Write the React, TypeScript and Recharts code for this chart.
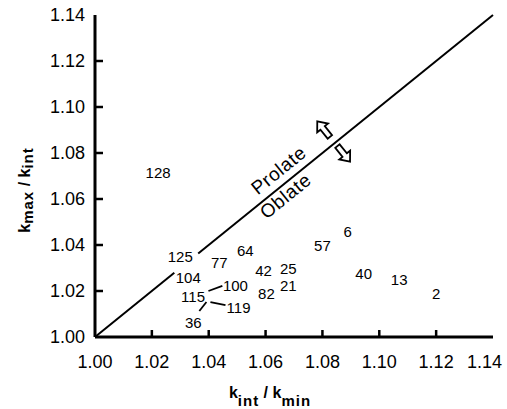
import React from 'react';
import { ScatterChart, Scatter, XAxis, YAxis, ReferenceLine } from 'recharts';

// ---- data ----
const axisTicks = [1.0, 1.02, 1.04, 1.06, 1.08, 1.1, 1.12, 1.14];
const innerTicks = [1.02, 1.04, 1.06, 1.08, 1.1, 1.12];

const specimenLabels = ['128', '125', '77', '64', '104', '100', '115', '119', '36', '42', '25', '82', '21', '57', '6', '40', '13', '2'];
const kIntOverKmin = [1.0222, 1.030, 1.0437, 1.0529, 1.0328, 1.0494, 1.0345, 1.0505, 1.0346, 1.0593, 1.068, 1.0603, 1.068, 1.080, 1.0889, 1.0945, 1.107, 1.120];
const kMaxOverKint = [1.0717, 1.0348, 1.0326, 1.0378, 1.0257, 1.0226, 1.0178, 1.013, 1.0065, 1.0287, 1.0296, 1.019, 1.0226, 1.0396, 1.0457, 1.0274, 1.0248, 1.019];

// diagonal k_max/k_int = k_int/k_min, broken around label 104/125
const diagonalStart = 1.0;
const diagonalBreakLow = 1.0279;
const diagonalBreakHigh = 1.0363;
const diagonalEnd = 1.14;

// leader lines from label 115
const leaderFrom = [
  { x: 1.0399, y: 1.02 },
  { x: 1.0392, y: 1.0152 },
  { x: 1.0406, y: 1.0152 },
];
const leaderTo = [
  { x: 1.0448, y: 1.0222 },
  { x: 1.0367, y: 1.0113 },
  { x: 1.0459, y: 1.0139 },
];

const regionNames = ['Prolate', 'Oblate'];
const regionX = [1.0646, 1.067];
const regionY = [1.0725, 1.0613];

const arrowDirs = ['up', 'down'];
const arrowX = [1.0804, 1.0875];
const arrowY = [1.0904, 1.0796];

// ---- derived tables ----
const labelData = specimenLabels.map((label, i) => ({ x: kIntOverKmin[i], y: kMaxOverKint[i], label }));
const regionData = regionNames.map((name, i) => ({ x: regionX[i], y: regionY[i], name }));
const arrowData = arrowDirs.map((dir, i) => ({ x: arrowX[i], y: arrowY[i], dir }));

const FONT = '"Liberation Sans", Arial, Helvetica, sans-serif';
const SLOPE_ANGLE = -39;
const CHART_W = 507;

const fmt = (v: number) => v.toFixed(2);

const BottomTick = (props: any) => {
  const { x, y, payload } = props;
  const inner = payload.value > 1.0001 && payload.value < 1.1399;
  const isLast = payload.value >= 1.1399;
  return (
    <g>
      {inner && <line x1={x} y1={y} x2={x} y2={y - 7} stroke="#000" strokeWidth={2.5} />}
      <text
        x={isLast ? CHART_W - 5 : x}
        y={y + 25}
        textAnchor={isLast ? 'end' : 'middle'}
        dominantBaseline="central"
        fontSize={18}
        fontFamily={FONT}
        fill="#000"
      >
        {fmt(payload.value)}
      </text>
    </g>
  );
};

const LeftTick = (props: any) => {
  const { x, y, payload } = props;
  const inner = payload.value > 1.0001 && payload.value < 1.1399;
  return (
    <g>
      {inner && <line x1={x} y1={y} x2={x + 8} y2={y} stroke="#000" strokeWidth={2.5} />}
      <text x={x - 10} y={y} textAnchor="end" dominantBaseline="central" fontSize={18} fontFamily={FONT} fill="#000">
        {fmt(payload.value)}
      </text>
    </g>
  );
};

const RightTick = (props: any) => {
  const { x, y } = props;
  return <line x1={x} y1={y} x2={x - 7} y2={y} stroke="#000" strokeWidth={2.5} />;
};

const LabelShape = (props: any) => {
  const { cx, cy, payload } = props;
  return (
    <text x={cx} y={cy} textAnchor="middle" dominantBaseline="central" fontSize={15} fontFamily={FONT} fill="#000">
      {payload.label}
    </text>
  );
};

const RegionShape = (props: any) => {
  const { cx, cy, payload } = props;
  return (
    <text
      x={cx}
      y={cy}
      transform={`rotate(${SLOPE_ANGLE} ${cx} ${cy})`}
      textAnchor="middle"
      dominantBaseline="central"
      fontSize={19}
      letterSpacing={0.6}
      fontFamily={FONT}
      fill="#000"
    >
      {payload.name}
    </text>
  );
};

const ArrowShape = (props: any) => {
  const { cx, cy, payload } = props;
  const angle = payload.dir === 'up' ? SLOPE_ANGLE : SLOPE_ANGLE + 180;
  return (
    <path
      transform={`translate(${cx},${cy}) rotate(${angle})`}
      d="M0,-10 L-7,-1.5 L-2.8,-1.5 L-2.8,10 L2.8,10 L2.8,-1.5 L7,-1.5 Z"
      fill="#fff"
      stroke="#000"
      strokeWidth={1.8}
      strokeLinejoin="miter"
    />
  );
};

export default function App() {
  return (
    <div style={{ position: 'absolute', left: 0, top: 0, width: 507, height: 409, background: '#fff' }}>
      <ScatterChart width={507} height={409} margin={{ top: 15, right: 14, bottom: 0, left: 0 }}>
        <XAxis
          xAxisId={0}
          type="number"
          dataKey="x"
          domain={[1, 1.14]}
          ticks={axisTicks}
          height={72}
          tickSize={0}
          tickMargin={0}
          tickLine={false}
          tick={(p: any) => <BottomTick {...p} />}
          axisLine={{ stroke: '#000', strokeWidth: 3 }}
          allowDataOverflow
        />
        <XAxis
          xAxisId="top"
          orientation="top"
          type="number"
          domain={[1, 1.14]}
          height={0}
          tick={false}
          tickLine={false}
          axisLine={{ stroke: '#000', strokeWidth: 2.5 }}
        />
        <YAxis
          yAxisId={0}
          type="number"
          dataKey="y"
          domain={[1, 1.14]}
          ticks={axisTicks}
          width={95}
          tickSize={0}
          tickMargin={0}
          tickLine={false}
          tick={(p: any) => <LeftTick {...p} />}
          axisLine={{ stroke: '#000', strokeWidth: 3 }}
          allowDataOverflow
        />
        <YAxis
          yAxisId="right"
          orientation="right"
          type="number"
          domain={[1, 1.14]}
          ticks={innerTicks}
          width={0}
          tickSize={0}
          tickMargin={0}
          tickLine={false}
          tick={(p: any) => <RightTick {...p} />}
          axisLine={{ stroke: '#000', strokeWidth: 3 }}
        />

        <ReferenceLine
          segment={[{ x: diagonalStart, y: diagonalStart }, { x: diagonalBreakLow, y: diagonalBreakLow }]}
          stroke="#000"
          strokeWidth={2}
          ifOverflow="visible"
        />
        <ReferenceLine
          segment={[{ x: diagonalBreakHigh, y: diagonalBreakHigh }, { x: diagonalEnd, y: diagonalEnd }]}
          stroke="#000"
          strokeWidth={2}
          ifOverflow="visible"
        />
        {leaderFrom.map((p, i) => (
          <ReferenceLine
            key={i}
            segment={[p, leaderTo[i]]}
            stroke="#000"
            strokeWidth={1.8}
            ifOverflow="visible"
          />
        ))}

        <Scatter data={labelData} shape={(p: any) => <LabelShape {...p} />} isAnimationActive={false} />
        <Scatter data={regionData} shape={(p: any) => <RegionShape {...p} />} isAnimationActive={false} />
        <Scatter data={arrowData} shape={(p: any) => <ArrowShape {...p} />} isAnimationActive={false} />

        <text x={270} y={398} textAnchor="middle" fontSize={16} fontWeight="bold" fontFamily={FONT} fill="#000">
          k
          <tspan dy={8} fontSize={15} letterSpacing={1}>int</tspan>
          <tspan dy={-8}> / k</tspan>
          <tspan dy={8} fontSize={15} letterSpacing={1}>min</tspan>
        </text>
        <text
          x={24}
          y={190}
          transform="rotate(-90 24 190)"
          textAnchor="middle"
          dominantBaseline="central"
          fontSize={16}
          fontWeight="bold"
          fontFamily={FONT}
          fill="#000"
        >
          k
          <tspan dy={3} fontSize={15} letterSpacing={1}>max</tspan>
          <tspan dy={-3}> / k</tspan>
          <tspan dy={3} fontSize={15} letterSpacing={1}>int</tspan>
        </text>
      </ScatterChart>
    </div>
  );
}
